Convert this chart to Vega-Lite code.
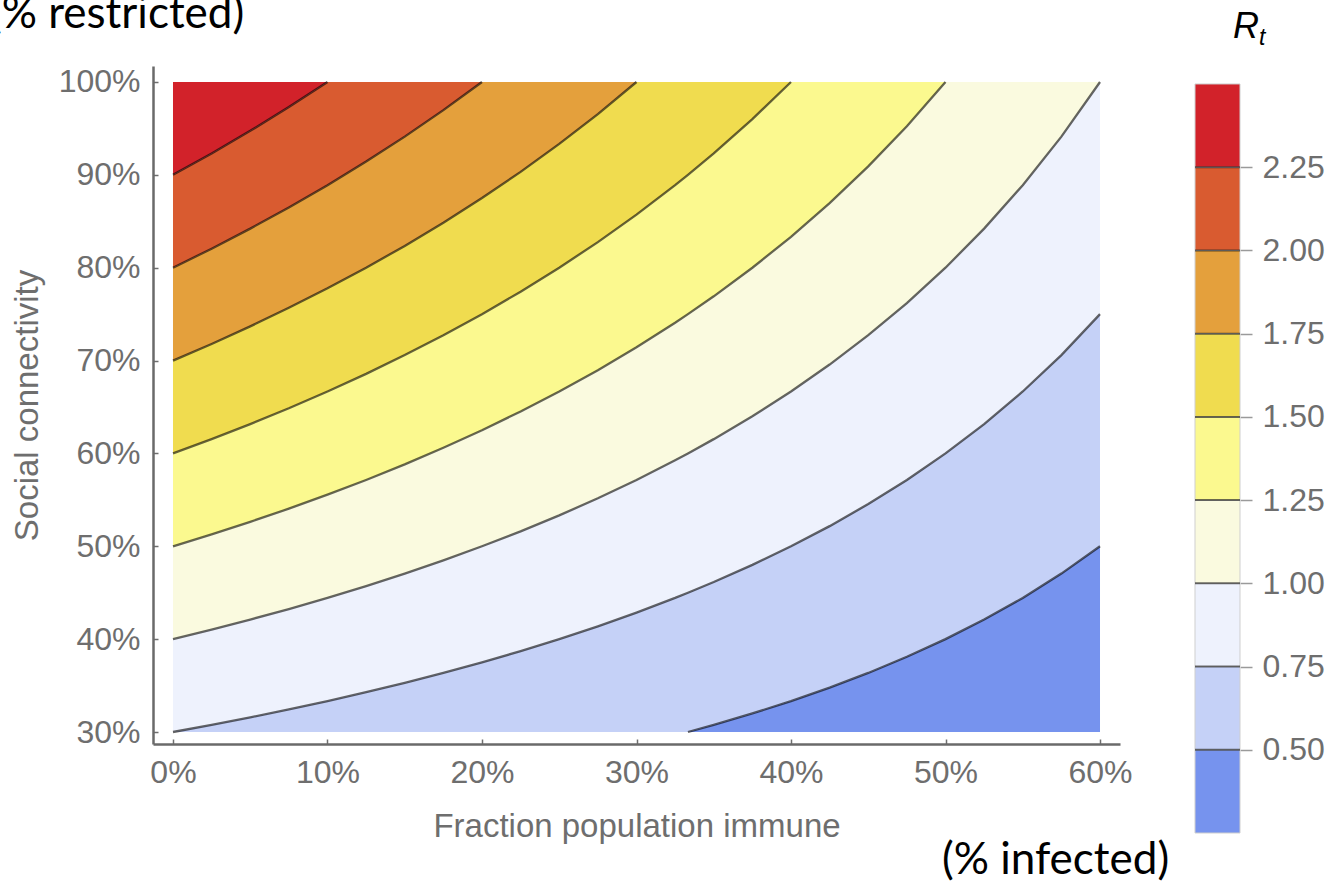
{
  "$schema": "https://vega.github.io/schema/vega-lite/v6.json",
  "padding": {"left": -11, "top": -8, "right": 0, "bottom": 0},
  "background": "white",
  "config": {
    "view": {"stroke": null},
    "axis": {"grid": false, "labelFont": "Liberation Sans", "titleFont": "Liberation Sans", "labelColor": "#6e6e6e", "titleColor": "#6e6e6e", "titleFontWeight": "normal"}
  },
  "datasets": {
    "contours": [
      {"f": 0, "s050": 0.3, "s075": 0.3, "s100": 0.4, "s125": 0.5, "s150": 0.6, "s175": 0.7, "s200": 0.8, "s225": 0.9},
      {"f": 0.025, "s050": 0.3, "s075": 0.3077, "s100": 0.4103, "s125": 0.5128, "s150": 0.6154, "s175": 0.7179, "s200": 0.8205, "s225": 0.9231},
      {"f": 0.05, "s050": 0.3, "s075": 0.3158, "s100": 0.4211, "s125": 0.5263, "s150": 0.6316, "s175": 0.7368, "s200": 0.8421, "s225": 0.9474},
      {"f": 0.075, "s050": 0.3, "s075": 0.3243, "s100": 0.4324, "s125": 0.5405, "s150": 0.6486, "s175": 0.7568, "s200": 0.8649, "s225": 0.973},
      {"f": 0.1, "s050": 0.3, "s075": 0.3333, "s100": 0.4444, "s125": 0.5556, "s150": 0.6667, "s175": 0.7778, "s200": 0.8889, "s225": 1},
      {"f": 0.125, "s050": 0.3, "s075": 0.3429, "s100": 0.4571, "s125": 0.5714, "s150": 0.6857, "s175": 0.8, "s200": 0.9143, "s225": 1},
      {"f": 0.15, "s050": 0.3, "s075": 0.3529, "s100": 0.4706, "s125": 0.5882, "s150": 0.7059, "s175": 0.8235, "s200": 0.9412, "s225": 1},
      {"f": 0.175, "s050": 0.3, "s075": 0.3636, "s100": 0.4848, "s125": 0.6061, "s150": 0.7273, "s175": 0.8485, "s200": 0.9697, "s225": 1},
      {"f": 0.2, "s050": 0.3, "s075": 0.375, "s100": 0.5, "s125": 0.625, "s150": 0.75, "s175": 0.875, "s200": 1, "s225": 1},
      {"f": 0.225, "s050": 0.3, "s075": 0.3871, "s100": 0.5161, "s125": 0.6452, "s150": 0.7742, "s175": 0.9032, "s200": 1, "s225": 1},
      {"f": 0.25, "s050": 0.3, "s075": 0.4, "s100": 0.5333, "s125": 0.6667, "s150": 0.8, "s175": 0.9333, "s200": 1, "s225": 1},
      {"f": 0.275, "s050": 0.3, "s075": 0.4138, "s100": 0.5517, "s125": 0.6897, "s150": 0.8276, "s175": 0.9655, "s200": 1, "s225": 1},
      {"f": 0.3, "s050": 0.3, "s075": 0.4286, "s100": 0.5714, "s125": 0.7143, "s150": 0.8571, "s175": 1, "s200": 1, "s225": 1},
      {"f": 0.325, "s050": 0.3, "s075": 0.4444, "s100": 0.5926, "s125": 0.7407, "s150": 0.8889, "s175": 1, "s200": 1, "s225": 1},
      {"f": 0.3333, "s050": 0.3, "s075": 0.45, "s100": 0.6, "s125": 0.75, "s150": 0.9, "s175": 1, "s200": 1, "s225": 1},
      {"f": 0.35, "s050": 0.3077, "s075": 0.4615, "s100": 0.6154, "s125": 0.7692, "s150": 0.9231, "s175": 1, "s200": 1, "s225": 1},
      {"f": 0.375, "s050": 0.32, "s075": 0.48, "s100": 0.64, "s125": 0.8, "s150": 0.96, "s175": 1, "s200": 1, "s225": 1},
      {"f": 0.4, "s050": 0.3333, "s075": 0.5, "s100": 0.6667, "s125": 0.8333, "s150": 1, "s175": 1, "s200": 1, "s225": 1},
      {"f": 0.425, "s050": 0.3478, "s075": 0.5217, "s100": 0.6957, "s125": 0.8696, "s150": 1, "s175": 1, "s200": 1, "s225": 1},
      {"f": 0.45, "s050": 0.3636, "s075": 0.5455, "s100": 0.7273, "s125": 0.9091, "s150": 1, "s175": 1, "s200": 1, "s225": 1},
      {"f": 0.475, "s050": 0.381, "s075": 0.5714, "s100": 0.7619, "s125": 0.9524, "s150": 1, "s175": 1, "s200": 1, "s225": 1},
      {"f": 0.5, "s050": 0.4, "s075": 0.6, "s100": 0.8, "s125": 1, "s150": 1, "s175": 1, "s200": 1, "s225": 1},
      {"f": 0.525, "s050": 0.4211, "s075": 0.6316, "s100": 0.8421, "s125": 1, "s150": 1, "s175": 1, "s200": 1, "s225": 1},
      {"f": 0.55, "s050": 0.4444, "s075": 0.6667, "s100": 0.8889, "s125": 1, "s150": 1, "s175": 1, "s200": 1, "s225": 1},
      {"f": 0.575, "s050": 0.4706, "s075": 0.7059, "s100": 0.9412, "s125": 1, "s150": 1, "s175": 1, "s200": 1, "s225": 1},
      {"f": 0.6, "s050": 0.5, "s075": 0.75, "s100": 1, "s125": 1, "s150": 1, "s175": 1, "s200": 1, "s225": 1}
    ],
    "bands": [
      {"band": "b0", "lo": 0.25, "hi": 0.5},
      {"band": "b1", "lo": 0.5, "hi": 0.75},
      {"band": "b2", "lo": 0.75, "hi": 1.0},
      {"band": "b3", "lo": 1.0, "hi": 1.25},
      {"band": "b4", "lo": 1.25, "hi": 1.5},
      {"band": "b5", "lo": 1.5, "hi": 1.75},
      {"band": "b6", "lo": 1.75, "hi": 2.0},
      {"band": "b7", "lo": 2.0, "hi": 2.25},
      {"band": "b8", "lo": 2.25, "hi": 2.5}
    ]
  },
  "spacing": 75,
  "bounds": "flush",
  "hconcat": [
    {
      "width": 967,
      "height": 678,
      "layer": [
        {
          "data": {"name": "contours"},
          "encoding": {
            "x": {
              "field": "f", "type": "quantitative", "title": "Fraction population immune",
              "scale": {"domain": [-0.01294, 0.61294], "nice": false, "zero": false},
              "axis": {"values": [0, 0.1, 0.2, 0.3, 0.4, 0.5, 0.6], "format": ".0%", "labelFontSize": 32, "labelPadding": 18, "tickSize": -5, "tickColor": "#6e6e6e", "tickWidth": 1.5, "domainColor": "#6a6a6a", "domainWidth": 2.5, "titleFontSize": 33, "titlePadding": 22, "labelFlush": false, "labelOverlap": false}
            }
          },
          "layer": [
            {"mark": {"type": "area", "color": "#7693ee"}, "encoding": {"y": {"field": "s050", "type": "quantitative", "title": "Social connectivity", "scale": {"domain": [0.28708, 1.01723], "nice": false, "zero": false}, "axis": {"values": [0.3, 0.4, 0.5, 0.6, 0.7, 0.8, 0.9, 1.0], "format": ".0%", "labelFontSize": 32, "labelPadding": 18, "tickSize": -5, "tickColor": "#6e6e6e", "tickWidth": 1.5, "domainColor": "#6a6a6a", "domainWidth": 2.5, "titleFontSize": 33, "titlePadding": 14, "labelOverlap": false}}, "y2": {"datum": 0.3}}},
            {"mark": {"type": "area", "color": "#c5d1f7"}, "encoding": {"y": {"field": "s050", "type": "quantitative", "title": "Social connectivity"}, "y2": {"field": "s075"}}},
            {"mark": {"type": "area", "color": "#eef2fd"}, "encoding": {"y": {"field": "s075", "type": "quantitative", "title": "Social connectivity"}, "y2": {"field": "s100"}}},
            {"mark": {"type": "area", "color": "#fafadf"}, "encoding": {"y": {"field": "s100", "type": "quantitative", "title": "Social connectivity"}, "y2": {"field": "s125"}}},
            {"mark": {"type": "area", "color": "#fbf98f"}, "encoding": {"y": {"field": "s125", "type": "quantitative", "title": "Social connectivity"}, "y2": {"field": "s150"}}},
            {"mark": {"type": "area", "color": "#f0dc4f"}, "encoding": {"y": {"field": "s150", "type": "quantitative", "title": "Social connectivity"}, "y2": {"field": "s175"}}},
            {"mark": {"type": "area", "color": "#e4a03c"}, "encoding": {"y": {"field": "s175", "type": "quantitative", "title": "Social connectivity"}, "y2": {"field": "s200"}}},
            {"mark": {"type": "area", "color": "#d95b30"}, "encoding": {"y": {"field": "s200", "type": "quantitative", "title": "Social connectivity"}, "y2": {"field": "s225"}}},
            {"mark": {"type": "area", "color": "#d2222a"}, "encoding": {"y": {"field": "s225", "type": "quantitative", "title": "Social connectivity"}, "y2": {"datum": 1.0}}},
            {
              "transform": [
                {"fold": ["s050", "s075", "s100", "s125", "s150", "s175", "s200", "s225"]},
                {"filter": "(datum.key=='s050' && datum.f>=0.3333) || datum.key=='s075' || datum.key=='s100' || (datum.key=='s125' && datum.f<=0.5) || (datum.key=='s150' && datum.f<=0.4) || (datum.key=='s175' && datum.f<=0.3) || (datum.key=='s200' && datum.f<=0.2) || (datum.key=='s225' && datum.f<=0.1)"}
              ],
              "mark": {"type": "line", "color": "#000000", "opacity": 0.6, "strokeWidth": 2.3},
              "encoding": {"y": {"field": "value", "type": "quantitative", "title": "Social connectivity"}, "detail": {"field": "key"}}
            }
          ]
        },
        {
          "data": {"values": [{"label": "(% restricted)"}]},
          "mark": {"type": "text", "font": "Lato", "fontSize": 44, "color": "#000000", "align": "left", "baseline": "alphabetic"},
          "encoding": {"x": {"datum": -0.1185, "type": "quantitative"}, "y": {"datum": 1.0582, "type": "quantitative"}, "text": {"field": "label"}}
        },
        {
          "data": {"values": [{"label": "(% infected)"}]},
          "mark": {"type": "text", "font": "Lato", "fontSize": 44, "color": "#000000", "align": "center", "baseline": "alphabetic"},
          "encoding": {"x": {"datum": 0.5712, "type": "quantitative"}, "y": {"datum": 0.1473, "type": "quantitative"}, "text": {"field": "label"}}
        }
      ]
    },
    {
      "width": 45,
      "height": 767,
      "layer": [
        {
          "data": {"name": "bands"},
          "mark": {"type": "rect", "stroke": "#cfcfcf", "strokeWidth": 1},
          "encoding": {
            "x": {"datum": 0, "type": "quantitative", "scale": {"domain": [0, 1], "nice": false, "zero": false}, "axis": null},
            "x2": {"datum": 1},
            "y": {"field": "lo", "type": "quantitative", "title": null, "scale": {"domain": [0.25, 2.554], "nice": false, "zero": false},
                  "axis": {"orient": "right", "values": [0.5, 0.75, 1.0, 1.25, 1.5, 1.75, 2.0, 2.25], "format": ".2f", "labelFontSize": 32, "labelPadding": 10, "tickSize": 12, "tickColor": "#9a9a9a", "tickWidth": 1.5, "domain": false, "labelOverlap": false}},
            "y2": {"field": "hi"},
            "color": {"field": "band", "type": "nominal", "legend": null,
                      "scale": {"domain": ["b0", "b1", "b2", "b3", "b4", "b5", "b6", "b7", "b8"], "range": ["#7693ee", "#c5d1f7", "#eef2fd", "#fafadf", "#fbf98f", "#f0dc4f", "#e4a03c", "#d95b30", "#d2222a"]}}
          }
        },
        {
          "data": {"name": "bands"},
          "transform": [{"filter": "datum.lo > 0.3"}],
          "mark": {"type": "rule", "color": "#000000", "opacity": 0.55, "strokeWidth": 2},
          "encoding": {"y": {"field": "lo", "type": "quantitative"}}
        },
        {
          "data": {"values": [{"label": "R"}]},
          "mark": {"type": "text", "font": "Liberation Sans", "fontStyle": "italic", "fontSize": 36, "color": "#000000", "align": "left", "baseline": "alphabetic"},
          "encoding": {"x": {"datum": 0.844, "type": "quantitative"}, "y": {"datum": 2.638, "type": "quantitative"}, "text": {"field": "label"}}
        },
        {
          "data": {"values": [{"label": "t"}]},
          "mark": {"type": "text", "font": "Liberation Sans", "fontStyle": "italic", "fontSize": 23, "color": "#000000", "align": "left", "baseline": "alphabetic"},
          "encoding": {"x": {"datum": 1.422, "type": "quantitative"}, "y": {"datum": 2.617, "type": "quantitative"}, "text": {"field": "label"}}
        }
      ]
    }
  ]
}
